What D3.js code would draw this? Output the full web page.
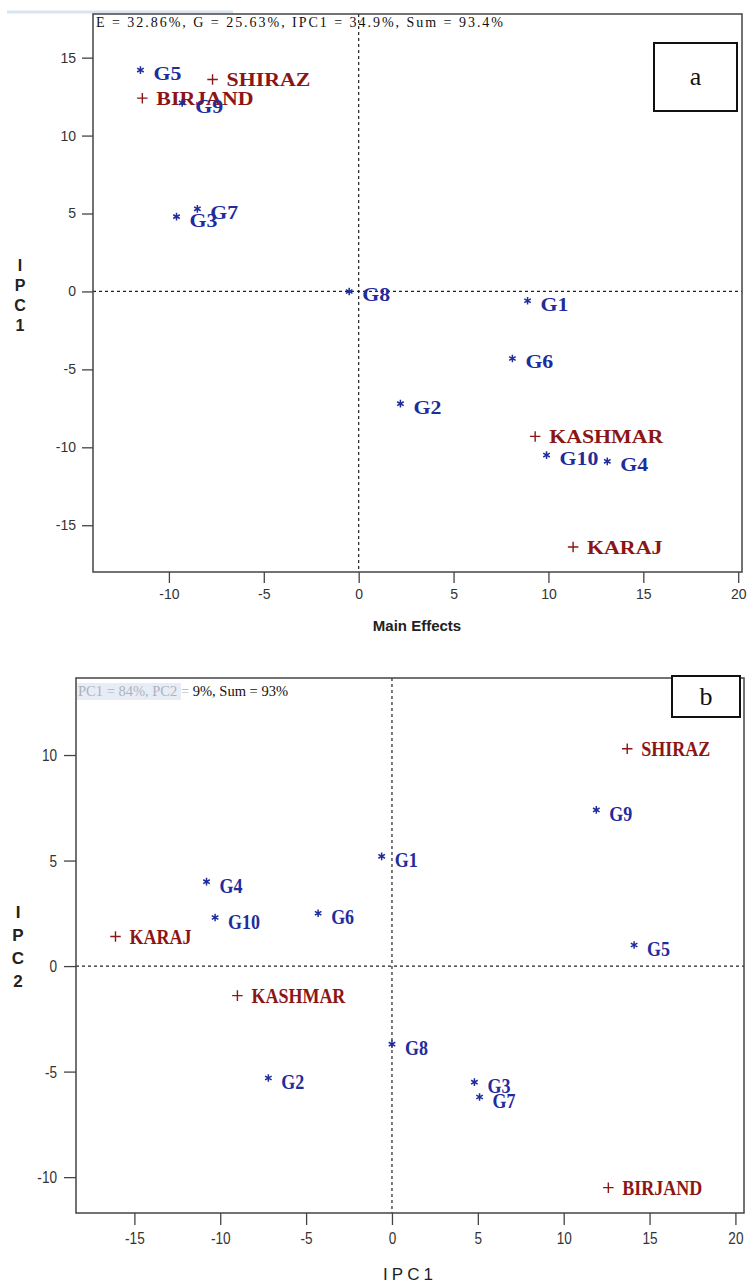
<!DOCTYPE html>
<html>
<head>
<meta charset="utf-8">
<script src="https://cdnjs.cloudflare.com/ajax/libs/d3/7.8.5/d3.min.js"></script>
<style>
  body { margin: 0; background: #fff; }
  svg { display: block; }
</style>
</head>
<body>
<script>
// genotypes and environments
const genotypes = ["G1", "G2", "G3", "G4", "G5", "G6", "G7", "G8", "G9", "G10"];
const envs = ["KARAJ", "SHIRAZ", "BIRJAND", "KASHMAR"];

// panel a: AMMI1 biplot (main effects vs IPC1)
const gMain = [8.9, 2.2, -9.6, 13.1, -11.5, 8.1, -8.5, -0.5, -9.3, 9.9];
const gIpc1a = [-0.6, -7.2, 4.8, -10.9, 14.2, -4.3, 5.3, 0.0, 12.1, -10.5];
const eMain = [11.3, -7.7, -11.4, 9.3];
const eIpc1a = [-16.4, 13.6, 12.4, -9.3];

// panel b: AMMI2 biplot (IPC1 vs IPC2)
const gIpc1b = [-0.6, -7.2, 4.8, -10.8, 14.1, -4.3, 5.1, 0.0, 11.9, -10.3];
const gIpc2b = [5.2, -5.3, -5.5, 4.0, 1.0, 2.5, -6.2, -3.7, 7.4, 2.3];
const eIpc1b = [-16.1, 13.7, 12.6, -9.0];
const eIpc2b = [1.4, 10.3, -10.5, -1.4];

const ticksA_x = [-10, -5, 0, 5, 10, 15, 20];
const ticksA_y = [-15, -10, -5, 0, 5, 10, 15];
const ticksB_x = [-15, -10, -5, 0, 5, 10, 15, 20];
const ticksB_y = [-10, -5, 0, 5, 10];

const blue = "#1f2c9c", red = "#8c1515";
const serif = "'Liberation Serif', 'Times New Roman', serif";
const sans = "'Liberation Sans', Arial, sans-serif";

const svg = d3.select("body").append("svg")
  .attr("width", 748).attr("height", 1286);

// faint blue strip at the top
svg.append("line").attr("x1", 7).attr("x2", 233).attr("y1", 12).attr("y2", 12)
  .attr("stroke", "#d9e4f1").attr("stroke-width", 3);

function drawPanel(p) {
  const x = d3.scaleLinear().domain(p.xDom).range([p.left, p.right]);
  const y = d3.scaleLinear().domain(p.yDom).range([p.top, p.bottom]);
  const g = svg.append("g");
  const fmt = d => String(d); // plain hyphen minus like the original

  // axes
  const xa = g.append("g").attr("transform", `translate(0,${p.bottom})`)
    .call(d3.axisBottom(x).tickValues(p.xt).tickFormat(fmt).tickSize(p.tick).tickSizeOuter(0).tickPadding(p.pad));
  const ya = g.append("g").attr("transform", `translate(${p.left},0)`)
    .call(d3.axisLeft(y).tickValues(p.yt).tickFormat(fmt).tickSize(p.tick).tickSizeOuter(0).tickPadding(p.pad));
  [xa, ya].forEach(a => {
    a.select(".domain").remove();
    a.selectAll("line").attr("stroke", "#444").attr("stroke-width", 1.3);
    a.selectAll("text").attr("fill", "#333").style("font-family", sans)
      .style("font-size", p.tickFont + "px");
  });
  if (p.tickSx !== 1) {
    xa.selectAll("text").attr("transform", function () {
      const t = d3.select(this);
      return `translate(0,${t.attr("y")}) scale(${p.tickSx},1) translate(0,${-t.attr("y")})`;
    });
    ya.selectAll("text").attr("transform", `translate(${-p.tick - p.pad},0) scale(${p.tickSx},1) translate(${p.tick + p.pad},0)`);
  }

  // zero reference lines
  g.append("line").attr("x1", x(0)).attr("x2", x(0)).attr("y1", p.top).attr("y2", p.bottom)
    .attr("stroke", "#222").attr("stroke-dasharray", "3,3").attr("stroke-width", 1.2);
  g.append("line").attr("x1", p.left).attr("x2", p.right).attr("y1", y(0)).attr("y2", y(0))
    .attr("stroke", "#222").attr("stroke-dasharray", "3,3").attr("stroke-width", 1.2);

  // frame
  g.append("rect").attr("x", p.left).attr("y", p.top)
    .attr("width", p.right - p.left).attr("height", p.bottom - p.top)
    .attr("fill", "none").attr("stroke", "#444").attr("stroke-width", 1.5);

  // points
  const gd = genotypes.map((n, i) => ({ n, x: p.gx[i], y: p.gy[i] }));
  const ed = envs.map((n, i) => ({ n, x: p.ex[i], y: p.ey[i] }));
  const ast = d3.symbol(d3.symbolAsterisk, 40);
  const plus = d3.symbol(d3.symbolPlus, 38);

  g.selectAll(".env").data(ed).join("path")
    .attr("transform", d => `translate(${x(d.x)},${y(d.y)})`)
    .attr("d", plus).attr("fill", "none").attr("stroke", red).attr("stroke-width", 1.4);
  g.selectAll(".envl").data(ed).join("text")
    .attr("transform", d => `translate(${x(d.x) + 14},${y(d.y) + 7}) scale(${p.labSx},1)`)
    .attr("fill", red).style("font-family", serif).style("font-weight", "bold")
    .style("font-size", p.labFont + "px").text(d => d.n);

  g.selectAll(".gen").data(gd).join("path")
    .attr("transform", d => `translate(${x(d.x)},${y(d.y)})`)
    .attr("d", ast).attr("fill", "none").attr("stroke", blue).attr("stroke-width", 1.5);
  g.selectAll(".genl").data(gd).join("text")
    .attr("transform", d => `translate(${x(d.x) + 13},${y(d.y) + p.gBase}) scale(${p.labSx},1)`)
    .attr("fill", blue).style("font-family", serif).style("font-weight", "bold")
    .style("font-size", p.labFont + "px").text(d => d.n);

  // panel letter box
  g.append("rect").attr("x", p.box[0]).attr("y", p.box[1]).attr("width", p.box[2]).attr("height", p.box[3])
    .attr("fill", "#fff").attr("stroke", "#111").attr("stroke-width", 2);
  g.append("text").attr("x", p.box[0] + p.box[2] / 2).attr("y", p.box[1] + p.box[3] / 2 + 8)
    .attr("text-anchor", "middle").style("font-family", serif).style("font-size", "26px")
    .attr("fill", "#111").text(p.letter);

  // stacked y title
  const yt = g.append("text").attr("fill", "#222").style("font-family", sans)
    .style("font-weight", "bold").style("font-size", p.yTitleFont + "px").attr("text-anchor", "middle");
  p.yTitle.split("").forEach((c, i) => {
    yt.append("tspan").attr("x", p.yTitleX).attr("y", p.yTitleY + i * p.yTitleStep).text(c);
  });
  return g;
}

const ga = drawPanel({
  left: 93, right: 742, top: 14, bottom: 572,
  xDom: [-14, 20.2], yDom: [17.8, -18.0], xt: ticksA_x, yt: ticksA_y,
  tick: 11, pad: 6, tickFont: 14, tickSx: 1,
  gx: gMain, gy: gIpc1a, ex: eMain, ey: eIpc1a,
  labFont: 19, labSx: 1.15, gBase: 10,
  box: [654, 43, 83, 68], letter: "a",
  yTitle: "IPC1", yTitleX: 20, yTitleY: 271, yTitleStep: 20, yTitleFont: 16
});
ga.append("text").attr("x", 96).attr("y", 27).attr("textLength", 407).attr("lengthAdjust", "spacing")
  .style("font-family", serif).style("font-size", "14px").attr("fill", "#111")
  .text("E = 32.86%, G = 25.63%, IPC1 = 34.9%, Sum = 93.4%");
ga.append("text").attr("x", 417).attr("y", 631).attr("text-anchor", "middle")
  .style("font-family", sans).style("font-weight", "bold").style("font-size", "15px").attr("fill", "#222")
  .text("Main Effects");

const gb = drawPanel({
  left: 76, right: 744, top: 678, bottom: 1213,
  xDom: [-18.4, 20.5], yDom: [13.65, -11.7], xt: ticksB_x, yt: ticksB_y,
  tick: 12, pad: 7, tickFont: 17, tickSx: 0.8,
  gx: gIpc1b, gy: gIpc2b, ex: eIpc1b, ey: eIpc2b,
  labFont: 20, labSx: 0.9, gBase: 11,
  box: [672, 676, 68, 41], letter: "b",
  yTitle: "IPC2", yTitleX: 18, yTitleY: 918, yTitleStep: 23, yTitleFont: 17
});
gb.append("rect").attr("x", 77).attr("y", 683).attr("width", 104).attr("height", 17).attr("fill", "#e8edf5");
const tb = gb.append("text").attr("x", 78).attr("y", 696).attr("textLength", 210).attr("lengthAdjust", "spacingAndGlyphs")
  .style("font-family", serif).style("font-size", "15px");
tb.append("tspan").attr("fill", "#aab3c2").text("PC1 = 84%, PC2 =");
tb.append("tspan").attr("fill", "#111").text(" 9%, Sum = 93%");
gb.append("text").attr("x", 410).attr("y", 1280).attr("text-anchor", "middle")
  .style("font-family", sans).style("font-size", "17px").style("letter-spacing", "4px").attr("fill", "#222")
  .text("IPC1");
</script>
</body>
</html>
